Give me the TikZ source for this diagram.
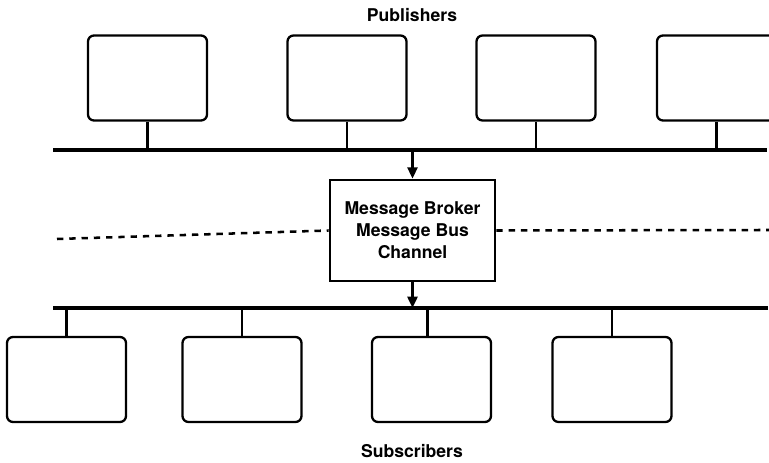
\documentclass[tikz,border=0pt]{standalone}
\usepackage{fontspec}
\setmainfont{TeX Gyre Heros}
\usetikzlibrary{arrows.meta}

\tikzset{every picture/.style={line width=0.75pt}}
\tikzset{
	client/.style={draw, rounded corners=4.5pt, line width=1.7pt, minimum width=89.25pt, minimum height=63.75pt, inner sep=0pt},
	bus/.style={line width=2.4pt},
	stem/.style={line width=1.7pt},
	flow/.style={line width=1.9pt, -{Triangle[width=7.5pt,length=8.5pt]}},
	channel/.style={line width=1.9pt, dash pattern=on 4.8pt off 4.4pt},
	caption/.style={font=\bfseries\fontsize{13.2}{16.5}\selectfont, inner sep=0pt}
}

\begin{document}
\begin{tikzpicture}[x=0.75pt,y=0.75pt,yscale=-1,xscale=1]
	\useasboundingbox (0,0) rectangle (769,463);
	\clip (0,0) rectangle (769,463);

	%Shape: Rounded Rect (publishers)
	\node[client] (pub1) at (147.5,78) {};
	\node[client] (pub2) at (347,78) {};
	\node[client] (pub3) at (536,78) {};
	\node[client] (pub4) at (716.5,78) {};
	%Straight Lines (top bus)
	\coordinate (tbl) at (53,150);
	\coordinate (tbr) at (767,150);
	\draw[bus] (tbl) -- (tbr);
	\foreach \p in {pub1,pub2,pub3,pub4}
		\draw[stem] (\p.south) -- (\p.south |- tbl);

	%Shape: Rectangle (broker)
	\node[draw, line width=2pt, minimum width=123.75pt, minimum height=75.75pt, align=center, caption] (broker) at (412.5,230.5) {Message Broker\\Message Bus\\Channel};

	%Straight Lines (bottom bus)
	\coordinate (bbl) at (53,308);
	\coordinate (bbr) at (768,308);
	\draw[bus] (bbl) -- (bbr);

	%Shape: Rounded Rect (subscribers)
	\node[client] (sub1) at (66.5,379.5) {};
	\node[client] (sub2) at (242,379.5) {};
	\node[client] (sub3) at (431.5,379.5) {};
	\node[client] (sub4) at (612,379.5) {};
	\foreach \s in {sub1,sub2,sub4}
		\draw[stem] (\s.north) -- (\s.north |- bbl);
	\draw[stem] ([xshift=-3pt]sub3.north) -- ([xshift=-3pt]sub3.north |- bbl);

	%Arrows
	\draw[flow] (broker.north |- tbl) -- (broker.north);
	\draw[flow] (broker.south) -- (broker.south |- bbl);

	%Dashed Lines
	\coordinate (dl) at (57,239);
	\coordinate (dr) at (769,230);
	\draw[channel] (dl) -- (broker.west);
	\draw[channel] (broker.east) -- (dr);

	% Text Node
	\node[caption, anchor=base] (pubtxt) at (412,22) {Publishers};
	% Text Node
	\node[caption, anchor=base] (subtxt) at (412,458) {Subscribers};

\end{tikzpicture}
\end{document}
